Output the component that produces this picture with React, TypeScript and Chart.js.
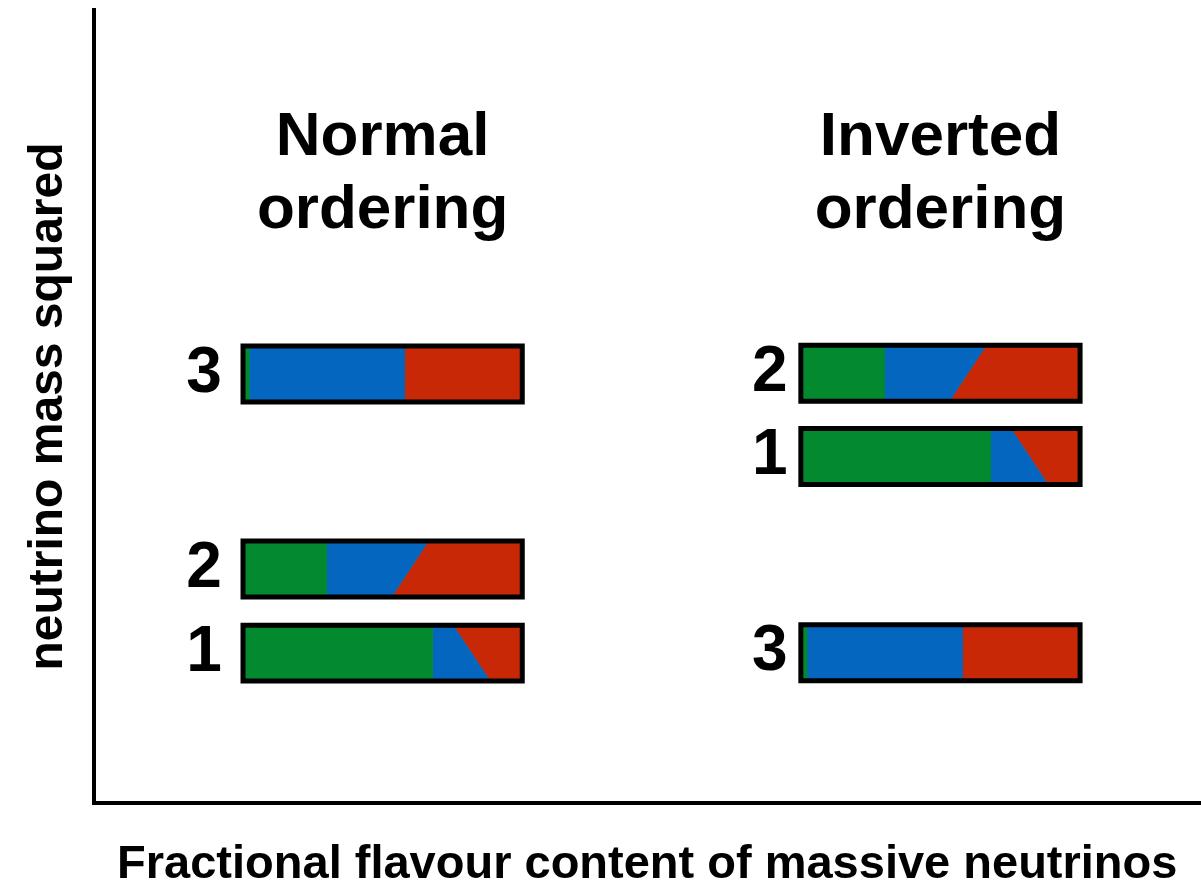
import React, { useEffect, useRef } from 'react';
import { Chart, registerables } from 'chart.js';

Chart.register(...registerables);

// ---------- data ----------
const stateLabels = ['1', '2', '3'];
const orderingTitleLines = [
  ['Normal', 'ordering'],
  ['Inverted', 'ordering'],
];
// mass-squared level (arbitrary units) of mass states 1, 2, 3
const normalLevels = [18.9, 29.5, 54.1];
const invertedLevels = [43.7, 54.2, 18.95];
// electron-flavour share of states 1, 2, 3
const electronShare = [0.679, 0.299, 0.022];
// cumulative (e + mu) share at the top and at the bottom edge of each bar
const eMuTop = [0.752, 0.664, 0.578];
const eMuBottom = [0.885, 0.532, 0.578];
const flavourNames = ['electron', 'muon', 'tau'];
const flavourColors = ['#03892E', '#0566C0', '#C82806'];

// ---------- layout constants ----------
const X_MAX = 3.966;
const GROUP_START = [0.5354, 2.533];
const Y_MAX = 100;
const BAR_HALF = 3.53;
const HEADER_LEVELS = [81.72, 72.5];
const LABEL_OFFSET_PX = [-39, -31];
const FONT = '"Liberation Sans", Arial, Helvetica, sans-serif';

function buildDatasets() {
  const datasets: any[] = [];
  [normalLevels, invertedLevels].forEach((levels, g) => {
    const x0 = GROUP_START[g];
    levels.forEach((lv, i) => {
      const b = lv - BAR_HALF;
      const t = lv + BAR_HALF;
      const e = electronShare[i];
      const st = eMuTop[i];
      const sb = eMuBottom[i];
      const green = [[0, t], [0, b], [e, b], [e, t]];
      const blue = sb >= st
        ? [[e, b], [e, t], [st, t], [sb, b]]
        : [[e, t], [e, b], [sb, b], [st, t]];
      const red = sb <= st
        ? [[sb, b], [st, t], [1, t], [1, b]]
        : [[st, t], [sb, b], [1, b], [1, t]];
      [green, blue, red].forEach((poly, f) => {
        datasets.push({
          type: 'scatter',
          label: `${g === 0 ? 'NO' : 'IO'} state ${stateLabels[i]} ${flavourNames[f]}`,
          data: poly.map(([u, v]) => ({ x: x0 + u, y: v })),
          showLine: true,
          fill: 'shape',
          backgroundColor: flavourColors[f],
          borderColor: flavourColors[f],
          borderWidth: 0.8,
          pointRadius: 0,
          order: 2,
        });
      });
      const rect = [[0, b], [1, b], [1, t], [0, t], [0, b]];
      datasets.push({
        type: 'scatter',
        label: `${g === 0 ? 'NO' : 'IO'} state ${stateLabels[i]} frame`,
        data: rect.map(([u, v]) => ({ x: x0 + u, y: v })),
        showLine: true,
        fill: false,
        borderColor: '#000000',
        borderWidth: 5,
        borderCapStyle: 'square',
        borderJoinStyle: 'miter',
        pointRadius: 0,
        order: 1,
      });
    });
  });
  return datasets;
}

const textPlugin = {
  id: 'orderingText',
  afterDatasetsDraw(chart: any) {
    const { ctx } = chart;
    const xs = chart.scales.x;
    const ys = chart.scales.y;
    ctx.save();
    ctx.fillStyle = '#000000';
    ctx.font = `bold 62px ${FONT}`;
    ctx.textAlign = 'center';
    ctx.textBaseline = 'alphabetic';
    orderingTitleLines.forEach((lines, g) => {
      const cx = xs.getPixelForValue(GROUP_START[g] + 0.5);
      lines.forEach((line, k) => {
        ctx.fillText(line, cx, ys.getPixelForValue(HEADER_LEVELS[k]));
      });
    });
    ctx.font = `bold 64px ${FONT}`;
    ctx.textBaseline = 'middle';
    [normalLevels, invertedLevels].forEach((levels, g) => {
      const px = xs.getPixelForValue(GROUP_START[g]) + LABEL_OFFSET_PX[g];
      levels.forEach((lv, i) => {
        ctx.fillText(stateLabels[i], px, ys.getPixelForValue(lv));
      });
    });
    ctx.restore();
  },
};

export default function App() {
  const canvasRef = useRef<HTMLCanvasElement | null>(null);

  useEffect(() => {
    document.body.style.margin = '0';
    document.body.style.overflow = 'hidden';
    const canvas = canvasRef.current;
    if (!canvas) return;
    const chart = new Chart(canvas, {
      type: 'scatter',
      data: { datasets: buildDatasets() },
      plugins: [textPlugin],
      options: {
        animation: false,
        responsive: true,
        maintainAspectRatio: false,
        events: [],
        layout: { padding: { top: 10, left: 0, right: 0, bottom: 0 } },
        plugins: {
          legend: { display: false },
          tooltip: { enabled: false },
          title: { display: false },
        },
        scales: {
          x: {
            type: 'linear',
            min: 0,
            max: X_MAX,
            grid: { display: false },
            ticks: { display: false },
            border: { display: true, color: '#000000', width: 4 },
            title: {
              display: true,
              text: 'Fractional flavour content of massive neutrinos',
              color: '#000000',
              font: { family: FONT, size: 47, weight: 'bold', lineHeight: 0.9 },
              padding: 0,
            },
            afterFit: (s: any) => {
              s.height = 83;
            },
          },
          y: {
            type: 'linear',
            min: 0,
            max: Y_MAX,
            grid: { display: false },
            ticks: { display: false },
            border: { display: true, color: '#000000', width: 4 },
            title: {
              display: true,
              text: 'neutrino mass squared',
              color: '#000000',
              font: { family: FONT, size: 48, weight: 'bold', lineHeight: 1 },
              padding: { top: 25, bottom: 0 },
            },
            afterFit: (s: any) => {
              s.width = 93.5;
            },
          },
        },
      } as any,
    });
    return () => chart.destroy();
  }, []);

  return (
    <div style={{ position: 'relative', width: '1201px', height: '886px' }}>
      <canvas ref={canvasRef} />
    </div>
  );
}
